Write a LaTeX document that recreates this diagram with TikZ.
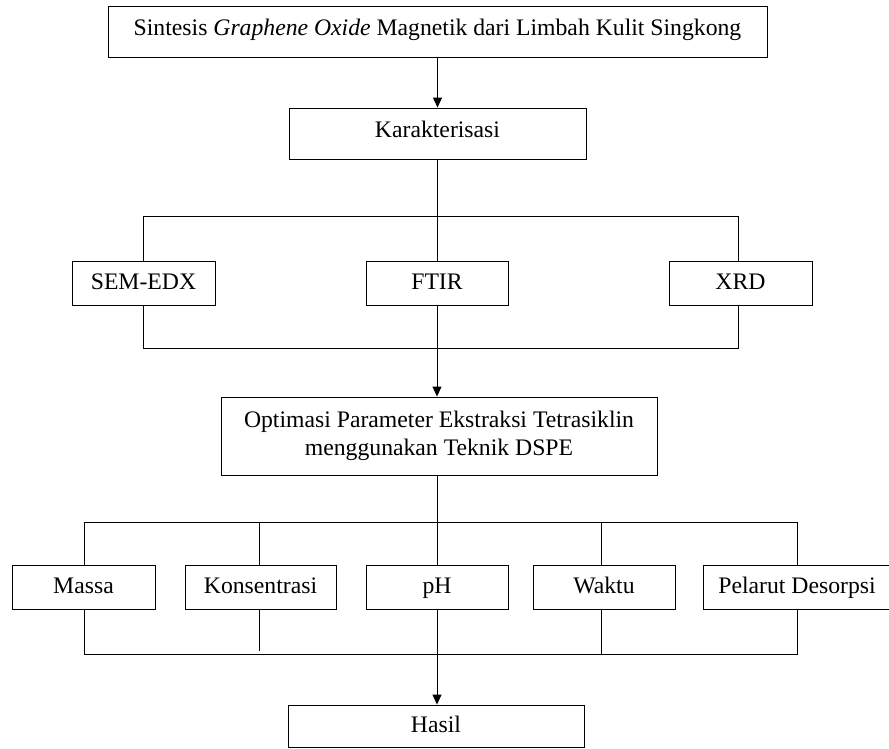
\documentclass[tikz,border=0pt]{standalone}
\usepackage{fontspec}
\setmainfont{Liberation Serif}
\usepackage{xcolor}
\usetikzlibrary{positioning,arrows.meta}

\begin{document}
\begin{tikzpicture}[
  x=1pt, y=-1pt,
  font=\fontsize{23.7}{28.5}\selectfont,
  box/.style={draw, line width=0.9pt, align=center, inner sep=2pt, minimum height=44pt},
  one/.style={box, text height=15.5pt, text depth=3.5pt},
  wide/.style={box, text height=16pt, text depth=8pt, minimum height=51pt},
  lin/.style={line width=0.9pt},
  arr/.style={lin, -{Triangle[length=10pt, width=9pt]}},
]
\useasboundingbox (0,0) rectangle (889,748);
% synthesis and characterisation
\node[wide, minimum width=659pt] (sin) at (437.5,31.5) {Sintesis \textit{Graphene Oxide} Magnetik dari Limbah Kulit Singkong};
\node[wide, minimum width=297pt] (kar) at (437.5,133.5) {Karakterisasi};
\node[one, minimum width=143pt] (sem) at (143.5,283) {SEM-EDX};
\node[one, minimum width=142pt] (ftir) at (437,283) {FTIR};
\node[one, minimum width=143pt] (xrd) at (740.5,283) {XRD};
% optimisation
\node[box, minimum width=436pt, minimum height=78pt] (opt) at (439,436) {Optimasi Parameter Ekstraksi Tetrasiklin\\menggunakan Teknik DSPE};
\node[one, minimum width=143pt] (mas) at (83.5,587.5) {Massa};
\node[one, minimum width=151pt] (kon) at (260.5,587.5) {Konsentrasi};
\node[one, minimum width=142pt] (ph) at (437,587.5) {pH};
\node[one, minimum width=142pt] (wak) at (604,587.5) {Waktu};
\node[one, minimum width=188pt] (pel) at (797,587.5) {Pelarut Desorpsi};
\node[one, minimum width=296pt, minimum height=42pt] (has) at (436,726) {Hasil};
% bracket corners
\coordinate (k1) at (143,216); \coordinate (k2) at (738,216);
\coordinate (k3) at (143,348); \coordinate (k4) at (738,348);
\coordinate (p1) at (84,522);  \coordinate (p2) at (797,522);
\coordinate (p3) at (84,654);  \coordinate (p4) at (797,654);
% arrows and lines
\draw[arr] (sin) -- (kar);
\draw[lin] (kar.south -| ftir.north) -- (ftir.north);
\draw[lin] (sem.north -| k1) |- (k2) -- (xrd.north -| k2);
\draw[lin] (sem.south -| k3) |- (k4) -- (xrd.south -| k4);
\draw[arr] (ftir.south) -- (opt.north -| ftir.south);
\draw[lin] (opt.south -| ph.north) -- (ph.north);
\draw[lin] (mas.north -| p1) |- (p2) -- (pel.north -| p2);
\draw[lin] (mas.south -| p3) |- (p4) -- (pel.south -| p4);
\draw[lin] (kon.north -| 259,0) -- (259,522);
\draw[lin] (kon.south -| 259,0) -- (259,651);
\draw[lin] (wak.north -| 601,0) -- (601,522);
\draw[lin] (wak.south -| 601,0) -- (601,654);
\draw[arr] (ph.south) -- (has.north -| ph.south);
\end{tikzpicture}
\end{document}
